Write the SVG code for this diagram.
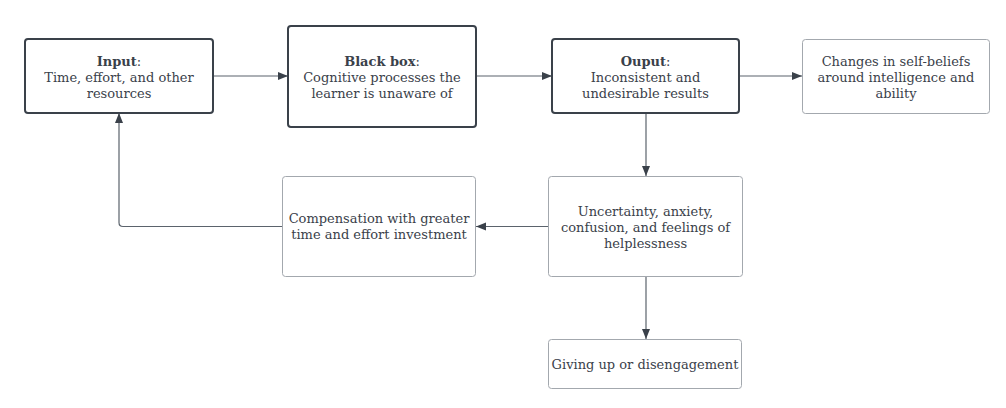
<svg xmlns="http://www.w3.org/2000/svg" width="1006" height="408" viewBox="0 0 1006 408">
<defs>
<marker id="ah" viewBox="0 0 10 10" refX="10" refY="5" markerWidth="10" markerHeight="10" markerUnits="userSpaceOnUse" orient="auto">
<path d="M0,1 L10,5 L0,9 Z" fill="#3a414a"/>
</marker>
<style>
.bold{fill:#fff;stroke:#3a414a;stroke-width:2}
.thin{fill:#fff;stroke:#a3a8ae;stroke-width:1}
text{font-family:"DejaVu Serif","Liberation Serif",serif;font-size:13px;fill:#3a414a;text-anchor:middle}
.b{font-weight:bold}
.c{fill:none;stroke:#5b636c;stroke-width:1.2}
</style>
</defs>
<rect width="1006" height="408" fill="#fff"/>
<g id="connectors">
<path class="c" d="M213,76 H288" marker-end="url(#ah)"/>
<path class="c" d="M476,76 H552" marker-end="url(#ah)"/>
<path class="c" d="M739,76 H802" marker-end="url(#ah)"/>
<path class="c" d="M646,113 V176" marker-end="url(#ah)"/>
<path class="c" d="M548,226.5 H476" marker-end="url(#ah)"/>
<path class="c" d="M282,226.5 H123 Q119,226.5 119,222.5 V113" marker-end="url(#ah)"/>
<path class="c" d="M646,277 V339" marker-end="url(#ah)"/>
</g>
<g id="input">
<rect class="bold" x="25" y="39" width="188" height="74" rx="3"/>
<text x="119" y="66"><tspan class="b">Input</tspan>:</text>
<text x="119" y="82">Time, effort, and other</text>
<text x="119" y="98">resources</text>
</g>
<g id="blackbox">
<rect class="bold" x="288" y="26" width="188" height="101" rx="3"/>
<text x="382" y="66"><tspan class="b">Black box</tspan>:</text>
<text x="382" y="82">Cognitive processes the</text>
<text x="382" y="98">learner is unaware of</text>
</g>
<g id="output">
<rect class="bold" x="552" y="39" width="187" height="74" rx="3"/>
<text x="645.5" y="66"><tspan class="b">Ouput</tspan>:</text>
<text x="645.5" y="82">Inconsistent and</text>
<text x="645.5" y="98">undesirable results</text>
</g>
<g id="changes">
<rect class="thin" x="802.5" y="39.5" width="187" height="74" rx="3"/>
<text x="896" y="66">Changes in self-beliefs</text>
<text x="896" y="82">around intelligence and</text>
<text x="896" y="98">ability</text>
</g>
<g id="compensation">
<rect class="thin" x="282.5" y="176.5" width="193" height="100" rx="3"/>
<text x="379" y="223">Compensation with greater</text>
<text x="379" y="239">time and effort investment</text>
</g>
<g id="uncertainty">
<rect class="thin" x="548.5" y="176.5" width="194" height="100" rx="3"/>
<text x="645.5" y="216">Uncertainty, anxiety,</text>
<text x="645.5" y="232">confusion, and feelings of</text>
<text x="645.5" y="248">helplessness</text>
</g>
<g id="givingup">
<rect class="thin" x="548.5" y="339.5" width="193" height="49" rx="3"/>
<text x="645" y="369">Giving up or disengagement</text>
</g>
</svg>
